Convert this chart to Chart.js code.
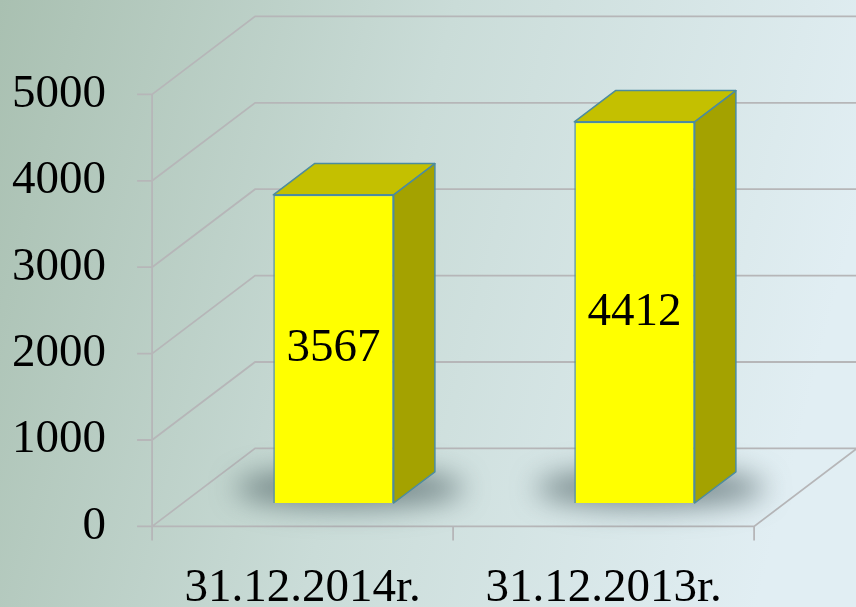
<!DOCTYPE html>
<html><head><meta charset="utf-8">
<script src="https://cdn.jsdelivr.net/npm/chart.js@4"></script>
<style>html,body{margin:0;padding:0;overflow:hidden;background:#c8dad6}
#wrap{width:856px;height:607px;position:relative}</style></head>
<body><div id="wrap"><canvas id="c" width="856" height="607"></canvas></div>
<script>
const categories = ['31.12.2014r.', '31.12.2013r.'];
const values = [3567, 4412];
const yTicks = [0, 1000, 2000, 3000, 4000, 5000];

// 3D projection: full depth vector and where the bars sit within it
const DX = 103, DY = -78;
const F0 = 0.3, F1 = 0.7;
const FONT = '47px "Liberation Serif", "DejaVu Serif", serif';

const threeD = {
  id: 'threeD',
  beforeDraw(chart) {
    const ctx = chart.ctx;
    const g = ctx.createLinearGradient(0, 0, chart.width, 220);
    g.addColorStop(0, '#a9c0b1');
    g.addColorStop(0.5, '#cadcd8');
    g.addColorStop(1, '#e1eef3');
    ctx.save();
    ctx.fillStyle = g;
    ctx.fillRect(0, 0, chart.width, chart.height);
    ctx.restore();
  },
  beforeDatasetsDraw(chart) {
    const ctx = chart.ctx, a = chart.chartArea;
    const xs = chart.scales.x, ys = chart.scales.y;
    const fx0 = a.left - F0 * DX, fx1 = a.right - F0 * DX;
    const fy = v => ys.getPixelForValue(v) - F0 * DY;
    ctx.save();
    ctx.strokeStyle = 'rgba(182,182,184,1)';
    ctx.lineWidth = 1.8;
    ctx.beginPath();
    yTicks.forEach(v => {
      const y = fy(v);
      ctx.moveTo(fx0, y); ctx.lineTo(fx0 + DX, y + DY); ctx.lineTo(fx1 + DX, y + DY);
      ctx.moveTo(fx0 - 15, y); ctx.lineTo(fx0, y);
    });
    const y0 = fy(0);
    ctx.moveTo(fx0, fy(yTicks[yTicks.length - 1])); ctx.lineTo(fx0, y0 + 14);
    ctx.moveTo(fx0, y0); ctx.lineTo(fx1, y0); ctx.lineTo(fx1 + DX, y0 + DY);
    const cw = (a.right - a.left) / categories.length;
    for (let i = 0; i <= categories.length; i++) {
      const bx = (i < categories.length ? xs.getPixelForValue(i) - cw / 2 : xs.getPixelForValue(i - 1) + cw / 2) - F0 * DX;
      ctx.moveTo(bx, y0); ctx.lineTo(bx, y0 + 14);
    }
    ctx.stroke();
    // soft shadows under the bars
    const meta = chart.getDatasetMeta(0);
    ctx.filter = 'blur(14px)';
    ctx.fillStyle = 'rgba(70,88,92,0.62)';
    meta.data.forEach(bar => {
      ctx.beginPath();
      ctx.ellipse(bar.x + 16, bar.base - 15, bar.width * 0.95, 20, 0, 0, Math.PI * 2);
      ctx.fill();
    });
    ctx.filter = 'none';
    ctx.restore();
  },
  afterDatasetsDraw(chart) {
    const ctx = chart.ctx, a = chart.chartArea;
    const xs = chart.scales.x, ys = chart.scales.y;
    const bdx = (F1 - F0) * DX, bdy = (F1 - F0) * DY;
    const meta = chart.getDatasetMeta(0);
    ctx.save();
    ctx.strokeStyle = '#4d8c9e';
    ctx.lineWidth = 1.5;
    ctx.lineJoin = 'round';
    meta.data.forEach(bar => {
      const l = bar.x - bar.width / 2, r = bar.x + bar.width / 2, t = bar.y, b = bar.base;
      ctx.beginPath();
      ctx.moveTo(l, t); ctx.lineTo(r, t); ctx.lineTo(r + bdx, t + bdy); ctx.lineTo(l + bdx, t + bdy); ctx.closePath();
      ctx.fillStyle = '#c4c000'; ctx.fill(); ctx.stroke();
      ctx.beginPath();
      ctx.moveTo(r, t); ctx.lineTo(r + bdx, t + bdy); ctx.lineTo(r + bdx, b + bdy); ctx.lineTo(r, b); ctx.closePath();
      ctx.fillStyle = '#a4a200'; ctx.fill(); ctx.stroke();
    });
    ctx.fillStyle = '#000';
    ctx.font = FONT;
    ctx.textAlign = 'center';
    ctx.textBaseline = 'middle';
    meta.data.forEach((bar, i) => {
      ctx.fillText(String(values[i]), bar.x, (bar.y + bar.base) / 2);
    });
    const fx0 = a.left - F0 * DX;
    ctx.textAlign = 'right';
    yTicks.forEach(v => {
      ctx.fillText(String(v), fx0 - 46, ys.getPixelForValue(v) - F0 * DY);
    });
    ctx.textAlign = 'center';
    ctx.textBaseline = 'alphabetic';
    const y0 = ys.getPixelForValue(0) - F0 * DY;
    categories.forEach((c, i) => {
      ctx.fillText(c, xs.getPixelForValue(i) - F0 * DX, y0 + 75);
    });
    ctx.restore();
  }
};

new Chart(document.getElementById('c'), {
  type: 'bar',
  data: {
    labels: categories,
    datasets: [{
      data: values,
      backgroundColor: '#ffff00',
      borderColor: '#4d8c9e',
      borderWidth: 1.5,
      barPercentage: 0.4,
      categoryPercentage: 1
    }]
  },
  options: {
    responsive: false,
    animation: false,
    layout: { padding: { left: 183, right: 71, top: 71, bottom: 104 } },
    plugins: { legend: { display: false }, tooltip: { enabled: false } },
    scales: {
      x: { display: false },
      y: { display: false, min: 0, max: 5000 }
    }
  },
  plugins: [threeD]
});
</script>
</body></html>
